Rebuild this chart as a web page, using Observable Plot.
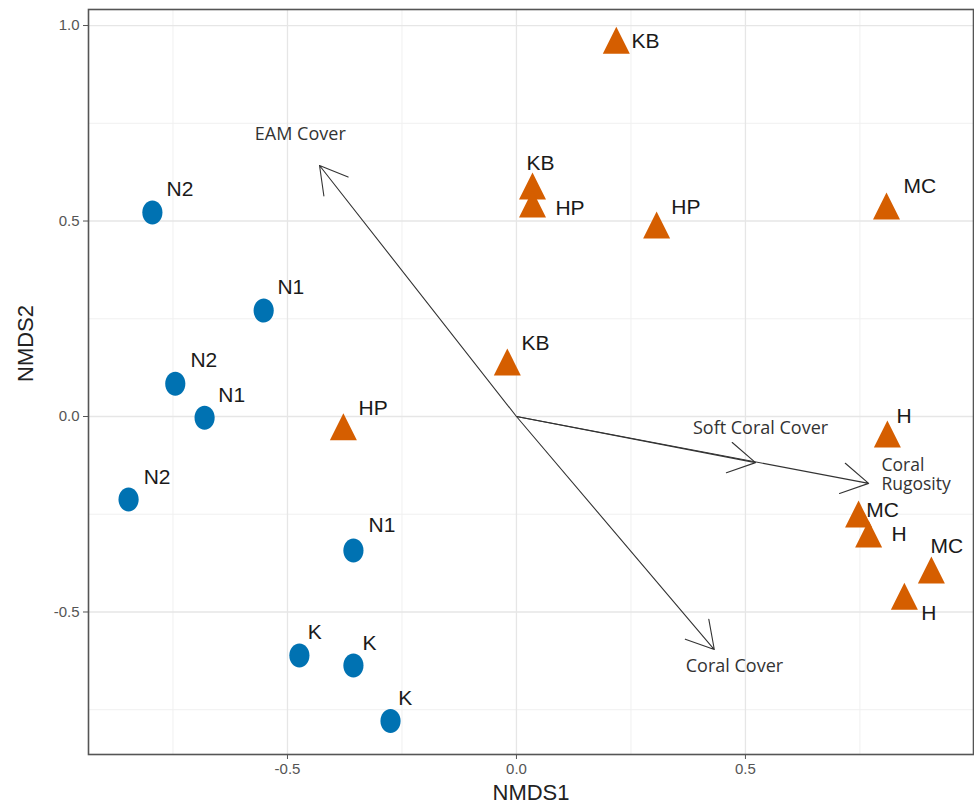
<!DOCTYPE html>
<html><head><meta charset="utf-8">
<script src="https://cdn.jsdelivr.net/npm/d3@7"></script>
<script src="https://cdn.jsdelivr.net/npm/@observablehq/plot@0.6"></script>
<style>body{margin:0;background:#fff} #chart svg{display:block}</style>
</head><body><div id="chart"></div>
<script>
// ---- data ----
const blueSites = ["N2","N1","N2","N1","N2","N1","K","K","K"];
const blueNMDS1 = [-0.795,-0.552,-0.745,-0.681,-0.847,-0.356,-0.474,-0.356,-0.275];
const blueNMDS2 = [0.522,0.271,0.084,-0.003,-0.212,-0.343,-0.611,-0.637,-0.779];
const blueLabelX = [-0.764,-0.522,-0.712,-0.651,-0.814,-0.323,-0.456,-0.336,-0.258];
const blueLabelY = [0.581,0.330,0.143,0.054,-0.156,-0.279,-0.552,-0.581,-0.721];

const orangeSites = ["KB","KB","HP","HP","MC","KB","HP","H","MC","H","MC","H"];
const orangeNMDS1 = [0.218,0.035,0.035,0.306,0.808,-0.020,-0.378,0.810,0.747,0.769,0.906,0.847];
const orangeNMDS2 = [0.951,0.578,0.532,0.478,0.527,0.128,-0.038,-0.056,-0.261,-0.312,-0.404,-0.471];
const orangeLabelX = [0.251,0.022,0.085,0.338,0.845,0.011,-0.345,0.830,0.764,0.819,0.904,0.884];
const orangeLabelY = [0.959,0.647,0.532,0.535,0.588,0.187,0.020,0.000,-0.240,-0.302,-0.332,-0.504];

const vectorNames = ["EAM Cover","Soft Coral Cover","Coral Rugosity","Coral Cover"];
const vectorLabelLines = [["EAM Cover"],["Soft Coral Cover"],["Coral","Rugosity"],["Coral Cover"]];
const vectorNMDS1 = [-0.430,0.522,0.769,0.432];
const vectorNMDS2 = [0.642,-0.118,-0.171,-0.596];
const vectorLabelX = [-0.472,0.533,0.797,0.476];
const vectorLabelY = [0.721,-0.031,-0.148,-0.639];

const xTicks = [-0.5,0,0.5];
const yTicks = [-0.5,0,0.5,1.0];
const xMinor = [-0.75,-0.25,0.25,0.75];
const yMinor = [-0.75,-0.25,0.25,0.75];

// ---- tables ----
const blue = blueSites.map((s,i)=>({site:s,x:blueNMDS1[i],y:blueNMDS2[i],lx:blueLabelX[i],ly:blueLabelY[i]}));
const orange = orangeSites.map((s,i)=>({site:s,x:orangeNMDS1[i],y:orangeNMDS2[i],lx:orangeLabelX[i],ly:orangeLabelY[i]}));
const vectors = vectorNames.map((n,i)=>({name:n,label:vectorLabelLines[i].join("\n"),multi:vectorLabelLines[i].length>1,x:vectorNMDS1[i],y:vectorNMDS2[i],lx:vectorLabelX[i],ly:vectorLabelY[i]}));

// custom symbols
const ellipse = {draw(ctx,size){const r=Math.sqrt(size/Math.PI);const rx=r*0.84,ry=r,k=0.5523;
  ctx.moveTo(rx,0);ctx.bezierCurveTo(rx,ry*k,rx*k,ry,0,ry);ctx.bezierCurveTo(-rx*k,ry,-rx,ry*k,-rx,0);
  ctx.bezierCurveTo(-rx,-ry*k,-rx*k,-ry,0,-ry);ctx.bezierCurveTo(rx*k,-ry,rx,-ry*k,rx,0);ctx.closePath();}};
const tri = {draw(ctx,size){const r=Math.sqrt(size/Math.PI);const h=2*r,w=2*r;
  ctx.moveTo(0,-h*2/3);ctx.lineTo(w/2,h/3);ctx.lineTo(-w/2,h/3);ctx.closePath();}};

const chart = Plot.plot({
  width:974, height:807,
  marginLeft:88, marginRight:1, marginTop:9, marginBottom:53,
  style:{fontFamily:"'Liberation Sans', Arial, sans-serif", background:"#fff"},
  x:{domain:[-0.9345,0.998]},
  y:{domain:[-0.8645,1.041]},
  marks:[
    Plot.gridX(xMinor,{stroke:"#f0f0f0",strokeOpacity:1,strokeWidth:1}),
    Plot.gridY(yMinor,{stroke:"#f0f0f0",strokeOpacity:1,strokeWidth:1}),
    Plot.gridX(xTicks,{stroke:"#e6e6e6",strokeOpacity:1,strokeWidth:1.3}),
    Plot.gridY(yTicks,{stroke:"#e6e6e6",strokeOpacity:1,strokeWidth:1.3}),
    Plot.axisX(xTicks,{tickFormat:d=>d.toFixed(1),tickSize:5,tickPadding:4,fontSize:15,color:"#555",label:null}),
    Plot.axisY(yTicks,{tickFormat:d=>d.toFixed(1),tickSize:5,tickPadding:4,fontSize:15,color:"#555",label:null}),
    Plot.frame({stroke:"#555",strokeWidth:1.6}),
    Plot.arrow(vectors,{x1:d=>0,y1:d=>0,x2:"x",y2:"y",stroke:"#333",strokeWidth:1.1,headLength:42,headAngle:60}),
    Plot.text(vectors,{filter:d=>!d.multi,x:"lx",y:"ly",text:"label",fontFamily:"'Open Sans', sans-serif",fontSize:18,fill:"#333"}),
    Plot.text(vectors,{filter:d=>d.multi,x:"lx",y:"ly",text:"label",textAnchor:"start",fontFamily:"'Open Sans', sans-serif",fontSize:17.5,fill:"#333",lineHeight:1.06}),
    Plot.dot(blue,{x:"x",y:"y",symbol:ellipse,r:12,fill:"#0072B2",stroke:"none"}),
    Plot.dot(orange,{x:"x",y:"y",symbol:tri,r:13.5,fill:"#D55E00",stroke:"none"}),
    Plot.text(blue,{x:"lx",y:"ly",text:"site",textAnchor:"start",fontSize:21,fill:"#1a1a1a"}),
    Plot.text(orange,{x:"lx",y:"ly",text:"site",textAnchor:"start",fontSize:21,fill:"#1a1a1a"}),
    Plot.text(["NMDS1"],{frameAnchor:"bottom",text:d=>d,dy:45,fontSize:22,fill:"#222"}),
    Plot.text(["NMDS2"],{frameAnchor:"left",text:d=>d,dx:-63,rotate:-90,fontSize:22,fill:"#222"})
  ]
});
document.getElementById("chart").appendChild(chart);
</script>
</body></html>
